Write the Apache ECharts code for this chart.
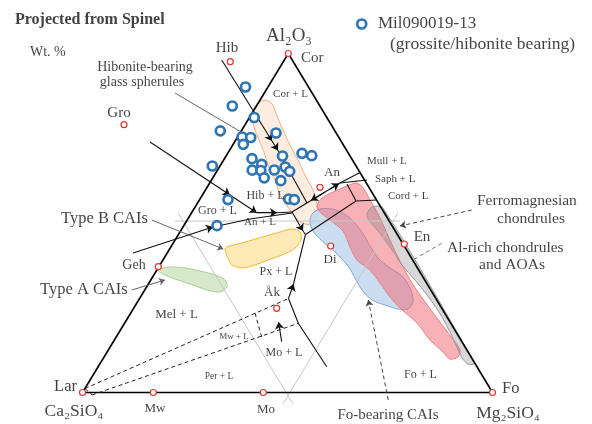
<!DOCTYPE html>
<html>
<head>
<meta charset="utf-8">
<script src="https://cdn.jsdelivr.net/npm/echarts@6.0.0/dist/echarts.min.js"></script>
<style>
html, body { margin: 0; padding: 0; background: #fff; }
#chart { width: 592px; height: 424px; }
</style>
</head>
<body>
<div id="chart"></div>
<script>
// plot coordinates of the ternary diagram (x to the right, y downwards)
const lar = [82.5, 392.5]
const fo = [492.5, 392.5]
const cor = [288.3, 53.5]

// Mil090019-13 analyses (blue rings)
const milPoints = [
  [245.5, 87], [232.3, 106], [254.2, 117.5], [220.3, 130.8], [276, 133],
  [242, 137], [250.7, 137.5], [243.3, 144.3], [302, 153.3], [311.7, 155.7],
  [282.5, 156], [252, 158.7], [261.7, 164.3], [212.3, 166], [252.2, 170.2],
  [260.8, 170.5], [274.3, 170], [285.2, 167], [289.7, 171.3], [264.2, 177.8],
  [280.8, 180.7], [228, 199.6], [288.8, 199], [294.3, 199.7], [217, 225.7]
]

// reference minerals (red rings)
const mineralNames = ['Cor', 'Hib', 'Gro', 'An', 'Di', 'En', 'Geh', 'Åk', 'Lar', 'Mw', 'Mo', 'Fo']
const mineralPoints = [
  [288.3, 53.5], [230.3, 61.7], [124, 124.7], [320, 187.3], [330.7, 246], [404.3, 244],
  [158.3, 266.7], [276.7, 308.3], [82.5, 392.5], [153.3, 392.5], [263.3, 392.5], [492.5, 392.5]
]

// outlined fields
const glassField = [
  [257, 104], [252, 115], [254, 127], [259, 140], [264, 152], [268, 165], [275, 180], [280, 195],
  [290, 210], [300, 222], [312, 224], [318, 214], [316, 200], [312, 188], [305, 175], [298, 160],
  [290, 145], [283, 130], [277, 116], [272, 104], [265, 100]
]
const typeAField = [
  [158, 270], [170, 267], [185, 268], [200, 271], [215, 275], [225, 280], [227, 287], [220, 292],
  [207, 290], [193, 285], [178, 280], [165, 275]
]
const typeBField = [
  [225, 249], [228, 258], [232, 265], [242, 268], [255, 265], [268, 260], [282, 255], [294, 249],
  [301, 240], [300, 232], [292, 229], [280, 232], [266, 236], [252, 240], [238, 244], [229, 246]
]
const foCaiField = [
  [310, 222], [312, 214], [320, 209], [332, 209], [343, 213], [352, 220], [362, 232], [370, 246],
  [378, 258], [390, 268], [402, 276], [411, 290], [413, 302], [408, 309], [398, 309], [385, 305],
  [372, 300], [362, 290], [355, 278], [348, 266], [335, 252], [322, 241], [313, 231]
]
const alRichField = [
  [317, 206], [322, 198], [333, 192], [347, 186], [357, 183], [364, 189], [370, 200], [378, 214],
  [386, 231], [394, 249], [402, 265], [412, 283], [425, 302], [440, 322], [452, 338], [460, 350],
  [458, 357], [450, 359], [443, 352], [430, 340], [417, 323], [400, 308], [390, 297], [380, 283],
  [370, 270], [357, 260], [350, 247], [343, 231], [330, 220], [320, 212]
]
const ferroField = [
  [367, 214], [372, 207], [383, 208], [473, 360], [474, 364], [468, 364], [462, 358], [456, 345],
  [449, 330], [439, 312], [427, 295], [415, 280], [402, 265], [392, 250], [382, 236], [373, 225], [368, 219]
]

// phase boundaries
const edgeLines = [[lar, fo], [lar, cor], [cor, fo]]
const plainLines = [
  [[276, 212.7], [292, 212]],
  [[213, 227], [250, 219], [292, 213]],
  [[278, 150.5], [307, 203]],
  [[292, 212], [311, 200.5]],
  [[339, 183.5], [360, 172.5]],
  [[311, 200.5], [330, 189], [339, 183.5]],
  [[303, 231], [305.5, 234.5]],
  [[293.5, 284], [305.5, 234.5]],
  [[305.5, 234.5], [356, 201]],
  [[347, 184], [356, 201], [377, 200]],
  [[340, 183], [367, 180]],
  [[256.7, 212.7], [276, 212.7]],
  [[288.5, 298.5], [298.3, 323.3], [326.7, 366.7]]
]
// two-point segments that end in an arrowhead
const arrowLines = [
  [[150, 142], [230, 195]],
  [[230, 195], [256.7, 212.7]],
  [[256.7, 212.7], [277, 212.7]],
  [[133, 253], [213, 227]],
  [[221.7, 60], [272, 141]],
  [[272, 141], [278, 150.5]],
  [[325, 192], [311, 200.5]],
  [[330, 189], [339, 183.5]],
  [[292, 212], [303, 231]],
  [[288.5, 298.5], [293.5, 284]],
  [[281.7, 341.7], [278.5, 322]]
]
const dashedLines = [
  [[85, 388.5], [288.5, 298.5]],
  [[92, 395], [298.3, 323.3]],
  [[255, 313], [261.7, 337]],
  [[85, 388.5], [92, 395]]
]
const projectionLines = [
  [[175, 221], [400, 221]],
  [[178, 213], [293, 404]],
  [[283, 404], [398, 213]]
]
const pointerLines = [
  [[175, 93], [253, 139]],
  [[151.7, 220], [223.3, 249]],
  [[131.7, 290], [165, 280]]
]
const dashedPointers = [
  [[471.7, 210], [400, 226]],
  [[388.3, 400], [368.3, 300]]
]
const dashedNoArrow = [
  [[441.7, 243.3], [413, 260]]
]

const serif = "'Liberation Serif', 'DejaVu Serif', serif"

// text annotations: [text, x, y, fontSize, align, bold]
const notes = [
  ['Projected from Spinel', 15, 20, 16, 'left', true],
  ['Wt. %', 30, 52, 14, 'left'],
  ['Hib', 227, 48, 15, 'center'],
  ['Al₂O₃', 289, 36, 19, 'center'],
  ['Cor', 301, 58, 15, 'left'],
  ['Mil090019-13', 378, 24, 17, 'left'],
  ['(grossite/hibonite bearing)', 390, 44, 17.5, 'left'],
  ['Hibonite-bearing', 145, 67, 14, 'center'],
  ['glass spherules', 142, 82, 14, 'center'],
  ['Gro', 119, 113, 15, 'center'],
  ['Cor + L', 290.5, 94, 11, 'center'],
  ['Mull + L', 367, 161, 11, 'left'],
  ['Saph + L', 375, 179, 11, 'left'],
  ['Cord + L', 388, 196, 11, 'left'],
  ['An', 332, 173, 13, 'center'],
  ['Hib + L', 265.5, 196, 12, 'center'],
  ['Gro + L', 217.5, 211, 12, 'center'],
  ['An + L', 260, 222.5, 11, 'center'],
  ['Type B CAIs', 61, 219, 16.5, 'left'],
  ['Geh', 134, 265, 14, 'center'],
  ['Type A CAIs', 40, 290, 16.5, 'left'],
  ['Px + L', 276, 272, 12, 'center'],
  ['Di', 330, 260, 13, 'center'],
  ['En', 422, 237, 15, 'center'],
  ['Ferromagnesian', 477, 201, 15.5, 'left'],
  ['chondrules', 531, 219, 15.5, 'center'],
  ['Al-rich chondrules', 447, 248, 15.5, 'left'],
  ['and AOAs', 512, 265, 15.5, 'center'],
  ['Åk', 272, 293, 13, 'center'],
  ['Mel + L', 176.5, 315, 13, 'center'],
  ['Mw + L', 234, 337, 9, 'center'],
  ['Mo + L', 284, 353, 12, 'center'],
  ['Per + L', 219, 376, 9.5, 'center'],
  ['Fo + L', 420.5, 375, 12, 'center'],
  ['Lar', 65.5, 387, 16.5, 'center'],
  ['Fo', 502, 389, 16.5, 'left'],
  ['Ca₂SiO₄', 74, 411.5, 17.5, 'center'],
  ['Mg₂SiO₄', 508, 413, 17.5, 'center'],
  ['Mw', 155, 409, 13, 'center'],
  ['Mo', 266, 410, 13, 'center'],
  ['Fo-bearing CAIs', 388, 415, 15, 'center']
]

function field (points, fill, stroke, z) {
  return {
    type: 'custom',
    z: z,
    silent: true,
    data: [[0, 0]],
    renderItem: (params, api) => ({
      type: 'polygon',
      shape: { points: points.map(p => api.coord(p)), smooth: 0.3 },
      style: { fill: fill, stroke: stroke, lineWidth: 1 }
    })
  }
}

function lineSet (list, style, arrowSize, z) {
  return {
    type: 'lines',
    coordinateSystem: 'cartesian2d',
    // arrowheads are only drawn on plain two-point lines
    polyline: !arrowSize,
    silent: true,
    z: z,
    symbol: arrowSize ? ['none', 'arrow'] : 'none',
    symbolSize: arrowSize || 0,
    lineStyle: Object.assign({ opacity: 1, curveness: 0 }, style),
    data: list.map(c => ({ coords: c }))
  }
}

const myChart = echarts.init(document.getElementById('chart'))

myChart.setOption({
  animation: false,
  backgroundColor: '#fff',
  grid: { left: 0, right: 0, top: 0, bottom: 0 },
  xAxis: { type: 'value', min: 0, max: 592, show: false },
  yAxis: { type: 'value', min: 0, max: 424, inverse: true, show: false },
  series: [
    field(glassField, 'rgba(252, 224, 204, 0.6)', '#f0ae84', 1),
    field(typeAField, 'rgba(214, 232, 200, 0.95)', '#a9cf92', 1),
    field(typeBField, 'rgba(253, 232, 178, 0.95)', '#f2b938', 1),
    field(foCaiField, 'rgba(196, 217, 240, 0.9)', '#7fa7d8', 2),
    field(alRichField, 'rgba(242, 105, 115, 0.52)', '#ef7f84', 3),
    field(ferroField, 'rgba(125, 125, 125, 0.3)', '#999', 4),

    lineSet(projectionLines, { color: '#c8c8c8', width: 1 }, 0, 5),
    lineSet(edgeLines, { color: '#000', width: 1.6 }, 0, 6),
    lineSet(plainLines, { color: '#111', width: 1.1 }, 0, 6),
    lineSet(arrowLines, { color: '#111', width: 1.1 }, 7, 6),
    lineSet(dashedLines, { color: '#222', width: 1, type: [4, 3] }, 0, 6),
    lineSet(pointerLines, { color: '#666', width: 1 }, 6, 6),
    lineSet(dashedPointers, { color: '#444', width: 1, type: [4, 3] }, 6, 6),
    lineSet(dashedNoArrow, { color: '#777', width: 1, type: [4, 3] }, 0, 6),

    {
      type: 'scatter',
      name: 'minerals',
      z: 8,
      symbol: 'circle',
      symbolSize: 6,
      itemStyle: { color: '#fff', borderColor: '#e3342c', borderWidth: 1.2, opacity: 1 },
      data: mineralPoints.map((p, i) => ({ name: mineralNames[i], value: p }))
    },
    {
      type: 'scatter',
      name: 'Mil090019-13',
      z: 9,
      symbol: 'circle',
      symbolSize: 9,
      itemStyle: { color: '#fff', borderColor: '#2e75b6', borderWidth: 2.7, opacity: 1 },
      data: milPoints.concat([[361.7, 24]])
    },
    {
      type: 'scatter',
      z: 10,
      silent: true,
      symbolSize: 0,
      data: notes.map(n => ({
        value: [n[1], n[2]],
        label: {
          show: true,
          position: [0, 0],
          formatter: n[0],
          fontFamily: serif,
          fontSize: n[3],
          fontWeight: n[5] ? 'bold' : 'normal',
          color: '#111',
          align: n[4],
          verticalAlign: 'middle'
        }
      }))
    }
  ]
})
</script>
</body>
</html>
